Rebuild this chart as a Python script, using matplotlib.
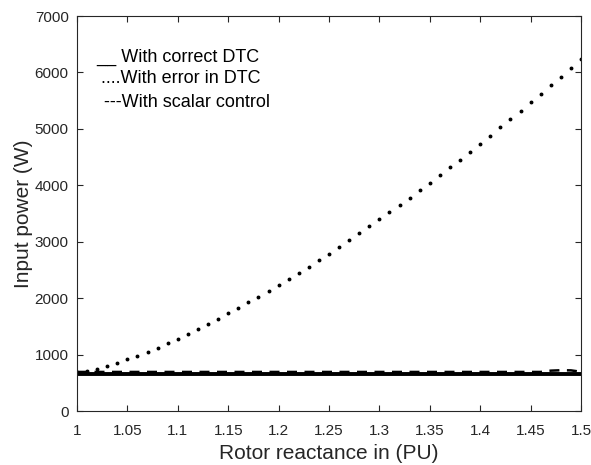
import numpy as np
import matplotlib
matplotlib.use('Agg')
import matplotlib.pyplot as plt

plt.rcParams['font.family'] = ['Liberation Sans', 'DejaVu Sans']

# rotor reactance (PU), 0.01 steps
x = np.round(np.arange(1.0, 1.5001, 0.01), 2)

# input power with error in DTC (W)
p_error = [690, 714, 744, 792, 850, 916, 980, 1051, 1122, 1200,
           1282, 1365, 1453, 1542, 1630, 1731, 1820, 1926, 2026, 2127,
           2228, 2339, 2446, 2557, 2676, 2788, 2906, 3030, 3149, 3273,
           3397, 3527, 3651, 3780, 3916, 4046, 4182, 4319, 4453, 4595,
           4737, 4879, 5027, 5175, 5322, 5471, 5618, 5772, 5924, 6078,
           6233]

# correct DTC is flat
p_correct = [661] * len(x)

# scalar control: flat with small bumps at the end
p_scalar = [692] * 47 + [715, 722, 720, 695]

xticks = [1, 1.05, 1.1, 1.15, 1.2, 1.25, 1.3, 1.35, 1.4, 1.45, 1.5]
xticklabels = ['1', '1.05', '1.1', '1.15', '1.2', '1.25', '1.3', '1.35', '1.4', '1.45', '1.5']
yticks = [0, 1000, 2000, 3000, 4000, 5000, 6000, 7000]

gray = (0.15, 0.15, 0.15)

fig = plt.figure(figsize=(5.91, 4.65), dpi=100)
ax = fig.add_axes([77/591, 54/465, 504/591, 395/465])

ax.plot(x, p_scalar, color='k', linestyle=(0, (4, 3)), linewidth=1.8)
ax.plot(x, p_correct, color='k', linestyle='-', linewidth=2.8)
ax.plot(x, p_error, color='k', linestyle='none', marker='.', markersize=3.6)

ax.set_xlim(1, 1.5)
ax.set_ylim(0, 7000)
ax.set_xticks(xticks)
ax.set_xticklabels(xticklabels)
ax.set_yticks(yticks)
ax.tick_params(direction='in', top=True, right=True, labelsize=11,
               colors=gray, length=4, width=0.8)
ax.tick_params(axis='x', pad=9)
ax.tick_params(axis='y', pad=6)
for s in ax.spines.values():
    s.set_color(gray)
    s.set_linewidth(0.8)

ax.set_xlabel('Rotor reactance in (PU)', fontsize=15, color=gray, labelpad=5)
ax.set_ylabel('Input power (W)', fontsize=15, color=gray, labelpad=1)

# hand-written legend, as in the original
ax.text(0.038, 0.894, '__ With correct DTC', transform=ax.transAxes,
        fontsize=13, va='center', color='k')
ax.text(0.048, 0.841, '....With error in DTC', transform=ax.transAxes,
        fontsize=13, va='center', color='k')
ax.text(0.054, 0.780, '---With scalar control', transform=ax.transAxes,
        fontsize=13, va='center', color='k')

fig.savefig('out.png', dpi=100)
plt.close(fig)
